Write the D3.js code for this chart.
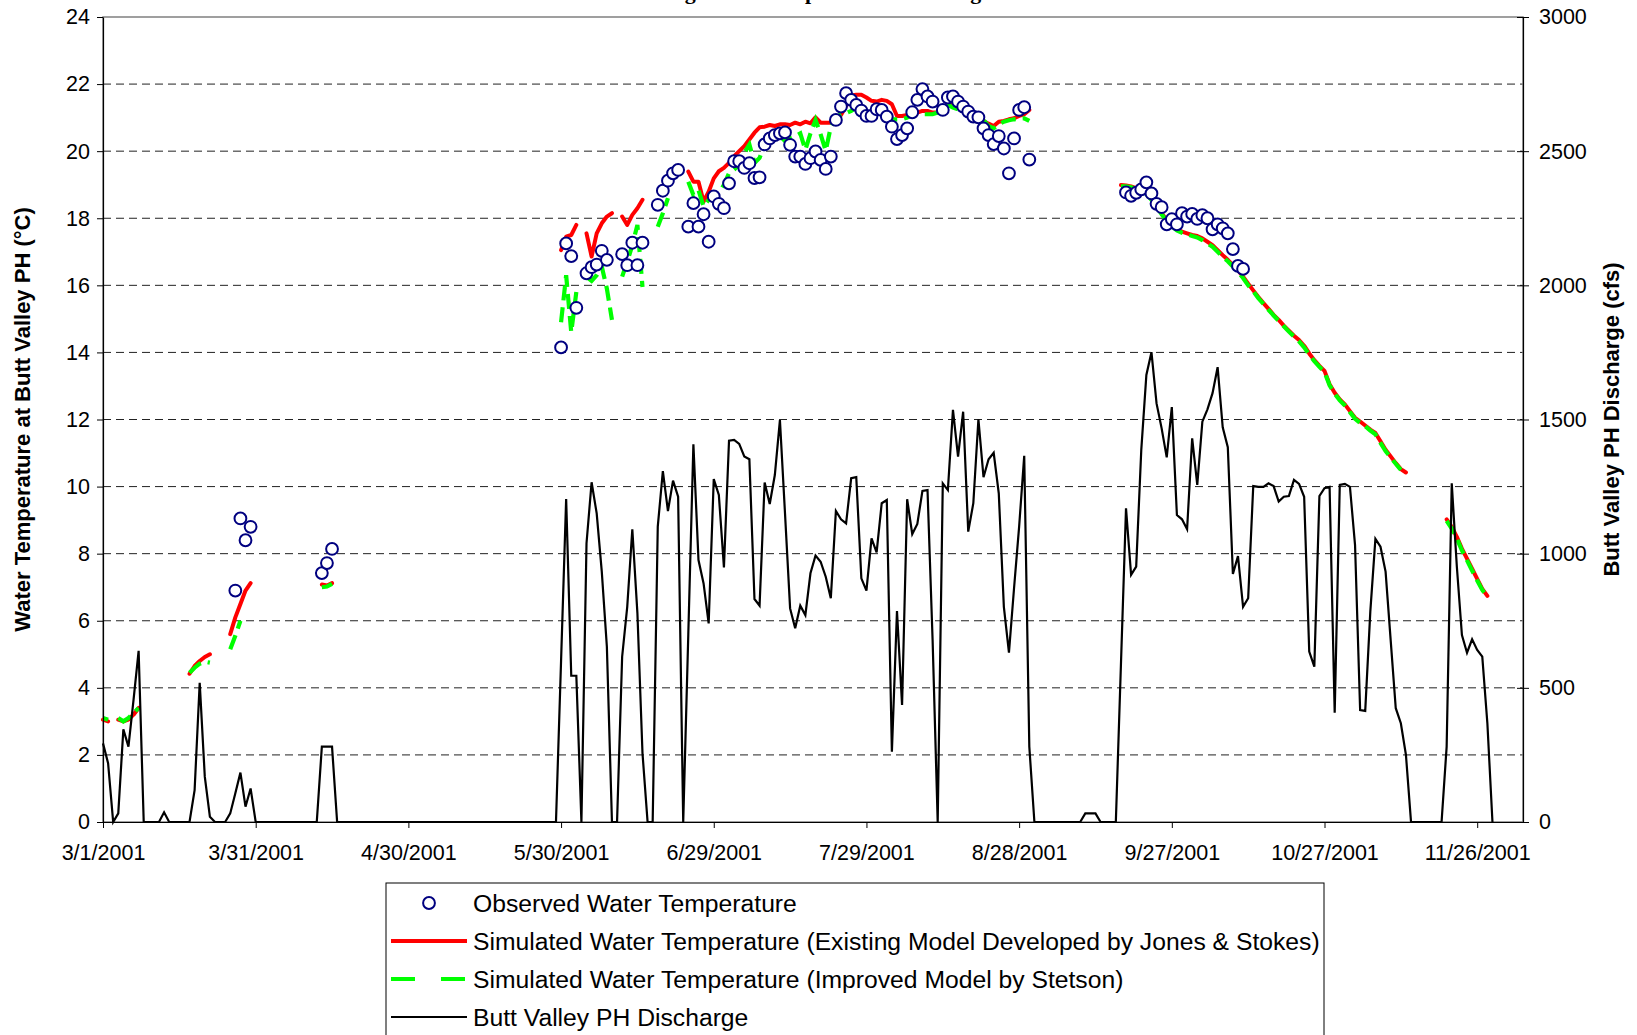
<!DOCTYPE html>
<html><head><meta charset="utf-8">
<script src="https://cdn.jsdelivr.net/npm/d3@7"></script>
<style>body{margin:0;background:#fff;} svg{display:block;}</style>
</head><body>
<svg id="chart" width="1637" height="1035"></svg>
<script>
// ---------------- DATA ----------------
const titleText = "Calibrating Water Temperature Modeling";
const startDate = "3/1/2001";
const xAxisEnd = "12/5/2001";
const xTickLabels = ["3/1/2001","3/31/2001","4/30/2001","5/30/2001","6/29/2001","7/29/2001","8/28/2001","9/27/2001","10/27/2001","11/26/2001"];
const tempTicks = [0,2,4,6,8,10,12,14,16,18,20,22,24];
const flowTicks = [0,500,1000,1500,2000,2500,3000];
const leftTitle = "Water Temperature at Butt Valley PH (°C)";
const rightTitle = "Butt Valley PH Discharge (cfs)";
const seriesNames = [
  "Observed Water Temperature",
  "Simulated Water Temperature (Existing Model Developed by Jones & Stokes)",
  "Simulated Water Temperature (Improved Model by Stetson)",
  "Butt Valley PH Discharge"
];

// daily discharge (cfs) from 3/1/2001
const dischargeCfs = [
  293,219,0,32,345,281,455,638,0,0,
  0,0,36,0,0,0,0,0,119,519,
  169,20,0,0,0,32,107,184,57,125,
  0,0,0,0,0,0,0,0,0,0,
  0,0,0,281,281,281,0,0,0,0,
  0,0,0,0,0,0,0,0,0,0,
  0,0,0,0,0,0,0,0,0,0,
  0,0,0,0,0,0,0,0,0,0,
  0,0,0,0,0,0,0,0,0,0,
  600,1204,545,545,0,1039,1266,1150,933,653,
  0,0,616,802,1091,778,256,0,0,1101,
  1308,1159,1272,1212,0,700,1408,976,889,740,
  1278,1219,949,1421,1424,1409,1362,1352,831,806,
  1265,1185,1293,1498,1150,796,722,806,771,927,
  993,970,914,834,1159,1128,1113,1281,1285,908,
  862,1057,1005,1188,1200,262,786,436,1203,1073,
  1111,1234,1237,678,0,1262,1237,1536,1362,1529,
  1082,1188,1501,1285,1352,1376,1225,802,631,871,
  1101,1365,281,0,0,0,0,0,0,0,
  0,0,0,32,32,32,0,0,0,0,
  585,1169,921,952,1387,1666,1751,1560,1467,1359,
  1546,1144,1128,1091,1430,1256,1492,1538,1598,1695,
  1471,1397,924,991,802,834,1252,1249,1249,1262,
  1252,1194,1212,1215,1275,1260,1212,635,579,1215,
  1244,1249,407,1256,1260,1249,1032,417,414,784,
  1055,1026,933,678,424,368,250,0,0,0,
  0,0,0,0,281,1262,952,697,631,681,
  641,616,368,0
];

// observed water temperature: day offset from 3/1/2001 and value (°C)
const obsDays = [26,27,28,29,43,44,45,
  90,91,92,93,95,96,97,98,99,102,103,104,105,106,109,110,111,112,113,
  115,116,117,118,119,120,121,122,123,124,125,126,127,128,129,130,131,132,133,134,135,136,137,138,139,140,141,142,143,
  144,145,146,147,148,149,150,151,152,153,154,155,156,157,158,159,160,161,162,163,165,166,167,168,169,170,171,172,173,174,175,176,177,178,179,180,181,182,
  201,202,203,204,205,206,207,208,209,210,211,212,213,214,215,216,217,218,219,220,221,222,223,224];
const obsTemp = [6.9,9.05,8.4,8.8,7.42,7.72,8.14,
  14.15,17.25,16.87,15.33,16.36,16.54,16.62,17.03,16.76,16.93,16.6,17.27,16.6,17.27,18.4,18.82,19.12,19.34,19.44,
  17.75,18.45,17.75,18.12,17.3,18.65,18.43,18.3,19.04,19.7,19.7,19.5,19.64,19.2,19.22,20.2,20.38,20.48,20.53,20.56,20.19,19.84,19.84,19.62,19.79,19.99,19.74,19.47,19.84,
  20.93,21.33,21.73,21.53,21.38,21.21,21.05,21.05,21.25,21.23,21.03,20.73,20.36,20.48,20.68,21.16,21.53,21.85,21.63,21.48,21.23,21.6,21.63,21.48,21.33,21.18,21.03,21.01,20.68,20.48,20.21,20.45,20.08,19.34,20.38,21.23,21.31,19.75,
  18.77,18.67,18.76,18.86,19.07,18.74,18.43,18.33,17.82,17.97,17.82,18.15,18.05,18.13,17.98,18.09,18.0,17.67,17.82,17.7,17.55,17.08,16.58,16.49];

// simulated (Jones & Stokes): [first day, consecutive daily values]
const jonesSegments = [
  [0,[3.05,3.0]],
  [3,[3.05,3.0,3.05,3.2,3.4]],
  [17,[4.42,4.65,4.8,4.92,5.0]],
  [25,[5.6,6.1,6.5,6.9,7.12]],
  [43,[7.08,7.05,7.12]],
  [90,[17.05,17.45,17.5,17.8]],
  [95,[17.55,16.86,17.55,17.85,18.05,18.15]],
  [102,[18.05,17.8,18.1,18.3,18.55]],
  [115,[19.39,19.09,19.09,18.5,18.79,19.19,19.4,19.5,19.65,19.85,20.0,20.15,20.35,20.55,20.71,20.73,20.78,20.75,20.8,20.8,
        20.78,20.85,20.8,20.88,20.83,21.01,20.85,20.85,20.85,21.0,21.08,21.35,21.65,21.68,21.68,21.6,21.5,21.48,21.53,21.5,
        21.4,21.05,21.05,21.08,21.12,21.15,21.2,21.2,21.15,21.15,21.25,21.35,21.4,21.35,21.3,21.23,21.08,21.0,20.9,20.82,
        20.75,20.88,20.9,20.95,20.98,21.05,21.1,21.23]],
  [200,[18.99,18.98,18.95,18.9,18.85,18.75,18.6,18.4,18.15,17.95,17.8,17.68,17.6,17.55,17.5,17.47,17.4,17.3,17.2,17.05,
        16.9,16.76,16.6,16.45,16.26,16.05,15.85,15.65,15.47,15.3,15.12,14.97,14.8,14.65,14.5,14.37,14.2,13.97,13.77,13.6,
        13.45,13.05,12.8,12.6,12.45,12.25,12.05,11.94,11.82,11.7,11.6,11.35,11.1,10.9,10.7,10.52,10.42]],
  [264,[9.02,8.8,8.5,8.15,7.85,7.55,7.25,6.95,6.74]]
];

// simulated (Stetson improved): [first day, consecutive daily values]
const stetsonSegments = [
  [0,[3.1,3.05]],
  [3,[3.1,3.0,3.1,3.25,3.4]],
  [17,[4.45,4.6,4.72,4.78,4.75]],
  [25,[5.15,5.55,6.0]],
  [43,[7.0,7.02,7.1]],
  [90,[14.9,16.3,14.6,15.8]],
  [95,[16.25,16.13,16.3,16.56,15.9,14.97]],
  [102,[16.26,16.7,17.2,17.8,15.95]],
  [109,[17.75,18.15,18.6]],
  [115,[19.09,18.69,18.84,18.35,18.55,18.65,18.74,19.0,19.34,19.45,19.6,19.95,20.2,19.65,19.8,20.2,20.33,20.4,20.45,20.3,
        20.4,20.45,20.53,20.04,20.53,20.93,20.5,20.01,20.73,21.0,21.1,21.13,21.2,21.3,21.25,21.1,21.05,21.2,21.2,21.0,
        20.95,20.95,20.95,21.0,21.1,21.13,21.1,21.1,21.1,21.15,21.25,21.38,21.3,21.25,21.2,21.1,21.0,20.95,20.93,20.75,
        20.68,20.8,20.88,20.92,20.95,20.97,20.98,20.9]],
  [200,[18.95,18.95,18.92,18.88,18.82,18.72,18.55,18.35,18.12,17.92,17.76,17.64,17.57,17.52,17.47,17.43,17.35,17.25,17.15,17.0,
        16.85,16.72,16.56,16.4,16.22,16.0,15.82,15.62,15.45,15.27,15.1,14.94,14.78,14.62,14.47,14.33,14.15,13.93,13.74,13.57,
        13.42,13.02,12.77,12.57,12.42,12.22,12.02,11.9,11.8,11.67,11.56,11.3,11.06,10.87,10.68,10.5]],
  [264,[8.98,8.75,8.45,8.1,7.8,7.5,7.2,6.92,6.72]]
];

// ---------------- CHART ----------------
const svg = d3.select("#chart");
const W = 1637, H = 1035;
const plot = {left: 103, right: 1523, top: 17, bottom: 822};
const parse = d3.utcParse("%m/%d/%Y");
const t0 = parse(startDate);
const dayDate = d => d3.utcDay.offset(t0, d);

const x = d3.scaleUtc().domain([t0, parse(xAxisEnd)]).range([plot.left, plot.right]);
const yT = d3.scaleLinear().domain([0, 24]).range([plot.bottom, plot.top]);
const yQ = d3.scaleLinear().domain([0, 3000]).range([plot.bottom, plot.top]);

const FONT = "'Liberation Sans', Arial, sans-serif";

svg.append("rect").attr("width", W).attr("height", H).attr("fill", "#fff");

// title (cropped at the top edge, as in the reference)
svg.append("text").attr("x", 587).attr("y", -1)
  .attr("font-family", "'Liberation Serif','Times New Roman',serif").attr("font-weight", "bold")
  .attr("font-size", 22).attr("fill", "#000").text(titleText);

// gridlines
svg.append("g").selectAll("line").data(tempTicks.filter(t => t > 0 && t < 24)).join("line")
  .attr("x1", plot.left).attr("x2", plot.right)
  .attr("y1", d => yT(d)).attr("y2", d => yT(d))
  .attr("stroke", "#222").attr("stroke-width", 1).attr("stroke-dasharray", "8,5");

// plot border
svg.append("rect").attr("x", plot.left).attr("y", plot.top)
  .attr("width", plot.right - plot.left).attr("height", plot.bottom - plot.top)
  .attr("fill", "none").attr("stroke", "#808080").attr("stroke-width", 1.5);

// series lines
function segLine(segs) {
  const pts = [];
  segs.forEach(([d0, vals]) => {
    vals.forEach((v, i) => pts.push({d: d0 + i, v}));
    pts.push({d: d0 + vals.length, v: null});
  });
  return pts;
}
const lineT = d3.line().defined(p => p.v != null).x(p => x(dayDate(p.d))).y(p => yT(p.v));

svg.append("path").datum(segLine(jonesSegments)).attr("d", lineT)
  .attr("fill", "none").attr("stroke", "#ff0000").attr("stroke-width", 4)
  .attr("stroke-linejoin", "round").attr("stroke-linecap", "round");
svg.append("path").datum(segLine(stetsonSegments)).attr("d", lineT)
  .attr("fill", "none").attr("stroke", "#00ff00").attr("stroke-width", 4.2)
  .attr("stroke-dasharray", "15,7");

const lineQ = d3.line().x((v, i) => x(dayDate(i))).y(v => yQ(v));
svg.append("path").datum(dischargeCfs).attr("d", lineQ)
  .attr("fill", "none").attr("stroke", "#000").attr("stroke-width", 2.2)
  .attr("stroke-linejoin", "miter");

// observed circles
svg.append("g").selectAll("circle").data(obsDays.map((d, i) => ({d, v: obsTemp[i]}))).join("circle")
  .attr("cx", p => x(dayDate(p.d))).attr("cy", p => yT(p.v)).attr("r", 5.9)
  .attr("fill", "#fff").attr("stroke", "#000080").attr("stroke-width", 2);

// axes
const xTicks = xTickLabels.map(parse);
const gx = svg.append("g").attr("transform", `translate(0,${plot.bottom})`)
  .call(d3.axisBottom(x).tickValues(xTicks).tickFormat((d, i) => xTickLabels[i])
    .tickSize(6).tickSizeOuter(0).tickPadding(17));
const gyl = svg.append("g").attr("transform", `translate(${plot.left},0)`)
  .call(d3.axisLeft(yT).tickValues(tempTicks).tickFormat(d3.format("d"))
    .tickSize(6).tickSizeOuter(0).tickPadding(7));
const gyr = svg.append("g").attr("transform", `translate(${plot.right},0)`)
  .call(d3.axisRight(yQ).tickValues(flowTicks).tickFormat(d3.format("d"))
    .tickSize(6).tickSizeOuter(0).tickPadding(10));
gyr.selectAll(".tick").append("line").attr("x1", -6).attr("x2", 0).attr("stroke", "#000");
[gx, gyl, gyr].forEach(g => {
  g.selectAll("text").attr("font-family", FONT).attr("font-size", 21.5).attr("fill", "#000");
  g.selectAll("line").attr("stroke", "#000");
  g.select(".domain").attr("stroke", "#000").attr("stroke-width", 1.2);
});

// axis titles
svg.append("text").attr("transform", `translate(30,${(plot.top + plot.bottom) / 2}) rotate(-90)`)
  .attr("text-anchor", "middle").attr("font-family", FONT).attr("font-weight", "bold")
  .attr("font-size", 22).text(leftTitle);
svg.append("text").attr("transform", `translate(1619,${(plot.top + plot.bottom) / 2}) rotate(-90)`)
  .attr("text-anchor", "middle").attr("font-family", FONT).attr("font-weight", "bold")
  .attr("font-size", 22).text(rightTitle);

// legend
const lg = svg.append("g");
lg.append("rect").attr("x", 386).attr("y", 883).attr("width", 938).attr("height", 200)
  .attr("fill", "#fff").attr("stroke", "#000").attr("stroke-width", 1);
const rowsY = [903, 941, 979, 1017];
lg.append("circle").attr("cx", 429).attr("cy", rowsY[0]).attr("r", 5.9)
  .attr("fill", "#fff").attr("stroke", "#000080").attr("stroke-width", 2);
lg.append("line").attr("x1", 391).attr("x2", 467).attr("y1", rowsY[1]).attr("y2", rowsY[1])
  .attr("stroke", "#ff0000").attr("stroke-width", 4);
lg.append("line").attr("x1", 391).attr("x2", 467).attr("y1", rowsY[2]).attr("y2", rowsY[2])
  .attr("stroke", "#00ff00").attr("stroke-width", 4.2).attr("stroke-dasharray", "24,26");
lg.append("line").attr("x1", 391).attr("x2", 467).attr("y1", rowsY[3]).attr("y2", rowsY[3])
  .attr("stroke", "#000").attr("stroke-width", 2);
lg.selectAll("text.lab").data(seriesNames).join("text").attr("class", "lab")
  .attr("x", 473).attr("y", (d, i) => rowsY[i]).attr("dy", "0.35em")
  .attr("font-family", FONT).attr("font-size", 24.7).attr("fill", "#000").text(d => d);
</script>
</body></html>
